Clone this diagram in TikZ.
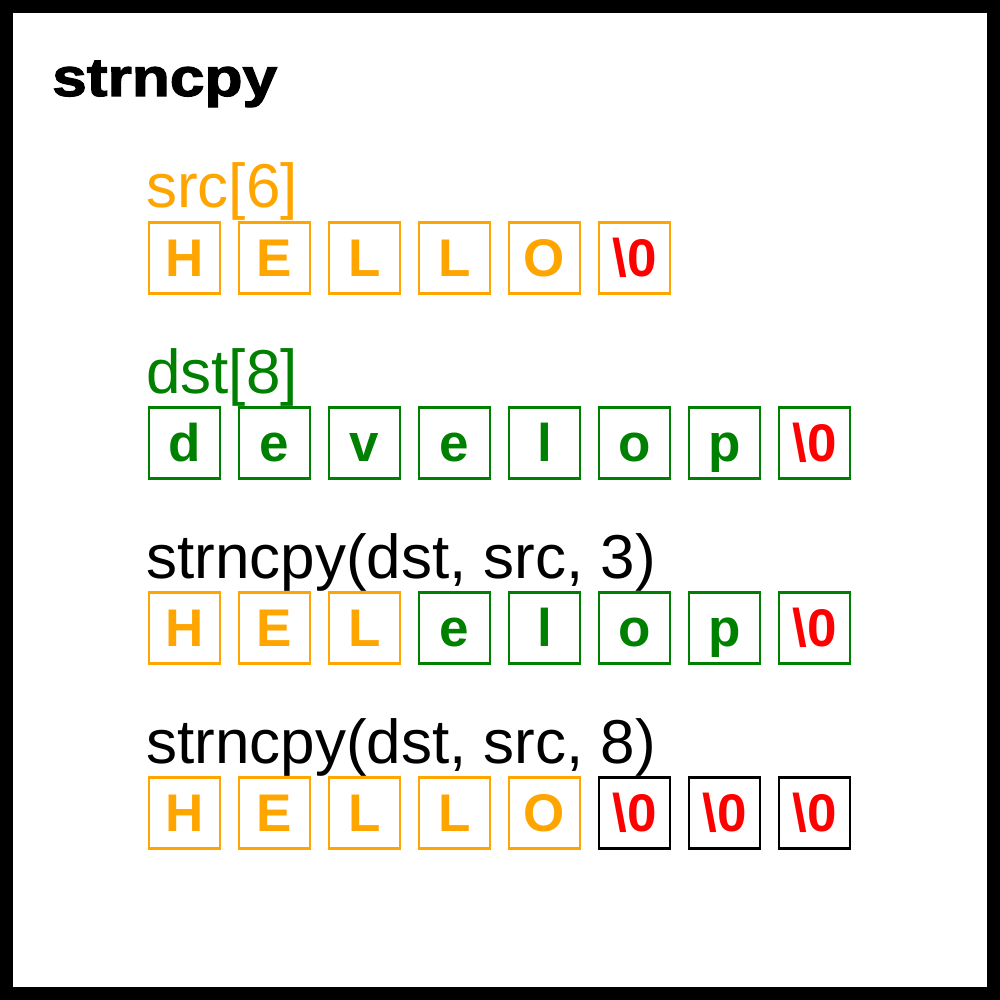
\documentclass[tikz,border=0pt]{standalone}
\usepackage{fontspec}
\usepackage{graphicx}
\setmainfont{Liberation Sans}
\newfontfamily\titlefont[FakeBold=2]{Liberation Sans Bold}
\definecolor{cOrange}{HTML}{FFA500}
\definecolor{cGreen}{HTML}{008000}
\definecolor{cRed}{HTML}{FF0000}
\tikzset{
  cell/.style={draw, line width=2.5pt, minimum size=71pt, inner sep=0pt,
    text height=37pt, text depth=0pt, font=\fontsize{53}{53}\selectfont\bfseries},
  ocell/.style={cell, draw=cOrange, text=cOrange},
  gcell/.style={cell, draw=cGreen, text=cGreen},
  zcell/.style={cell, text=cRed},
  lbl/.style={anchor=base west, inner sep=0pt, font=\fontsize{62}{62}\selectfont}
}
\begin{document}
\begin{tikzpicture}[x=1pt,y=-1pt]
\useasboundingbox (0,0) rectangle (1000,1000);
\fill[black] (0,0) rectangle (1000,1000);
\fill[white] (13,13) rectangle (987,987);
\node[anchor=base west, inner sep=0pt] (title) at (52,96)
  {\resizebox{225pt}{\height}{\fontsize{54}{54}\titlefont strncpy}};
% row 1
\node[lbl, text=cOrange] (l1) at (146,208) {src[6]};
\foreach \t [count=\i from 0] in {H,E,L,L,O}
  \node[ocell] (a\i) at (184.5+90*\i,258) {\t};
\node[zcell, draw=cOrange] (a5) at (184.5+450,258) {\textbackslash0};
% row 2
\node[lbl, text=cGreen] (l2) at (146,393) {dst[8]};
\foreach \t [count=\i from 0] in {d,e,v,e,l,o,p}
  \node[gcell] (b\i) at (184.5+90*\i,443) {\t};
\node[zcell, draw=cGreen] (b7) at (184.5+630,443) {\textbackslash0};
% row 3
\node[lbl] (l3) at (146,578) {strncpy(dst, src, 3)};
\foreach \t [count=\i from 0] in {H,E,L}
  \node[ocell] (c\i) at (184.5+90*\i,628) {\t};
\foreach \t [count=\i from 3] in {e,l,o,p}
  \node[gcell] (c\i) at (184.5+90*\i,628) {\t};
\node[zcell, draw=cGreen] (c7) at (184.5+630,628) {\textbackslash0};
% row 4
\node[lbl] (l4) at (146,763) {strncpy(dst, src, 8)};
\foreach \t [count=\i from 0] in {H,E,L,L,O}
  \node[ocell] (d\i) at (184.5+90*\i,813) {\t};
\foreach \i in {5,6,7}
  \node[zcell, draw=black] (d\i) at (184.5+90*\i,813) {\textbackslash0};
\end{tikzpicture}
\end{document}
